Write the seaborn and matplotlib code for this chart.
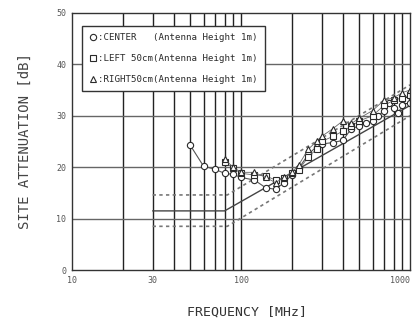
import numpy as np
import pandas as pd
import matplotlib
matplotlib.use("Agg")
import matplotlib.pyplot as plt
import seaborn as sns
from matplotlib.lines import Line2D

# measured site attenuation [dB] vs frequency [MHz]
center_f = [50, 60, 70, 80, 90, 100, 120, 140, 160, 180, 200, 220, 250, 280, 300,
            350, 400, 450, 500, 550, 600, 650, 700, 750, 800, 850, 900, 950, 1000]
center_db = [24.3, 20.2, 19.6, 18.8, 18.6, 18.0, 17.5, 16.0, 15.7, 17.0, 18.5, 19.8,
             22.5, 24.0, 24.5, 24.8, 25.2, 27.5, 28.0, 28.5, 29.0, 30.0, 31.0, 32.5,
             31.5, 30.5, 32.0, 33.0, 32.5]

left_f = [80, 90, 100, 120, 140, 160, 180, 200, 220, 250, 280, 300, 350, 400, 450,
          500, 600, 700, 800, 900, 1000]
left_db = [21.0, 19.8, 18.8, 18.5, 18.3, 17.5, 17.8, 18.8, 19.5, 22.0, 23.5, 25.0,
           26.0, 27.0, 28.0, 29.0, 30.0, 32.0, 33.0, 33.5, 34.0]

right_f = [80, 90, 100, 120, 140, 160, 180, 200, 220, 250, 280, 300, 350, 400, 450,
           500, 600, 700, 800, 900, 1000]
right_db = [21.5, 20.0, 19.0, 19.0, 18.0, 17.0, 18.0, 19.0, 20.5, 23.5, 25.0, 26.0,
            27.5, 29.0, 28.5, 29.5, 31.0, 33.0, 33.5, 34.5, 35.0]

# theoretical value and tolerance limits
ref_f = [30, 80, 1000]
ref_db = [11.5, 11.5, 32.0]
upper_f = [30, 83, 1000]
upper_db = [14.6, 14.6, 36.0]
lower_f = [30, 83, 1000]
lower_db = [8.5, 8.5, 30.0]

sns.set_style("white")
plt.rcParams['font.family'] = ['DejaVu Sans Mono', 'DejaVu Sans']

fig = plt.figure(figsize=(4.15, 3.23), dpi=100)
ax = fig.add_axes([0.1735, 0.164, 0.8145, 0.796])

ink = '#2a2a2a'

# reference lines
sns.lineplot(x=ref_f, y=ref_db, ax=ax, color='#444444', lw=1.0, estimator=None, sort=False)
sns.lineplot(x=upper_f, y=upper_db, ax=ax, color='#777777', lw=1.2, estimator=None,
             sort=False, linestyle=(0, (2, 2)))
sns.lineplot(x=lower_f, y=lower_db, ax=ax, color='#777777', lw=1.2, estimator=None,
             sort=False, linestyle=(0, (2, 2)))

mk = dict(markerfacecolor='white', markeredgecolor=ink, markeredgewidth=0.8, markersize=4.5)
sns.lineplot(x=center_f, y=center_db, ax=ax, color='#555555', lw=0.8, marker='o',
             estimator=None, sort=False, **mk)
sns.lineplot(x=left_f, y=left_db, ax=ax, color='#666666', lw=0.6, marker='s',
             estimator=None, sort=False, **mk)
sns.lineplot(x=right_f, y=right_db, ax=ax, color='#666666', lw=0.6, marker='^',
             estimator=None, sort=False, **mk)

ax.set_xscale('log')
ax.set_xlim(10, 1000)
ax.set_ylim(0, 50)

# grid: every decade sub-division, like log paper
for f in list(range(20, 100, 10)) + list(range(200, 1000, 100)) + [100]:
    ax.axvline(f, color='#222222', lw=1.0, zorder=0)
for v in [10, 20, 30, 40]:
    ax.axhline(v, color='#666666', lw=1.0, zorder=0)

ax.set_xticks([10, 30, 100, 1000])
ax.set_xticklabels(['10', '30', '100', '1000'])
ax.set_xticks([], minor=True)
ax.set_yticks([0, 10, 20, 30, 40, 50])
ax.tick_params(length=0, labelsize=6, colors='#555555', pad=4)
ax.get_xticklabels()[-1].set_horizontalalignment('right')
for s in ax.spines.values():
    s.set_color('#333333')
    s.set_linewidth(1.0)

fig.text(0.06, 0.563, 'SITE ATTENUATION [dB]', rotation=90, ha='center', va='center',
         fontsize=10, color='#444444')
fig.text(0.595, 0.034, 'FREQUENCY [MHz]', ha='center', va='center',
         fontsize=9.5, color='#333333')

handles = [
    Line2D([], [], marker='o', ls='none', **mk),
    Line2D([], [], marker='s', ls='none', **mk),
    Line2D([], [], marker='^', ls='none', **mk),
]
labels = [':CENTER   (Antenna Height 1m)',
          ':LEFT 50cm(Antenna Height 1m)',
          ':RIGHT50cm(Antenna Height 1m)']
leg = ax.legend(handles, labels, loc='upper left', bbox_to_anchor=(0.03, 0.95),
                borderaxespad=0, fancybox=False, framealpha=1, edgecolor='#333333',
                prop={'size': 6.6}, handlelength=0.8, handletextpad=0.1,
                labelspacing=1.3, borderpad=0.8)
leg.get_frame().set_linewidth(1.0)
for t in leg.get_texts():
    t.set_color(ink)

fig.savefig('out.png', dpi=100)
